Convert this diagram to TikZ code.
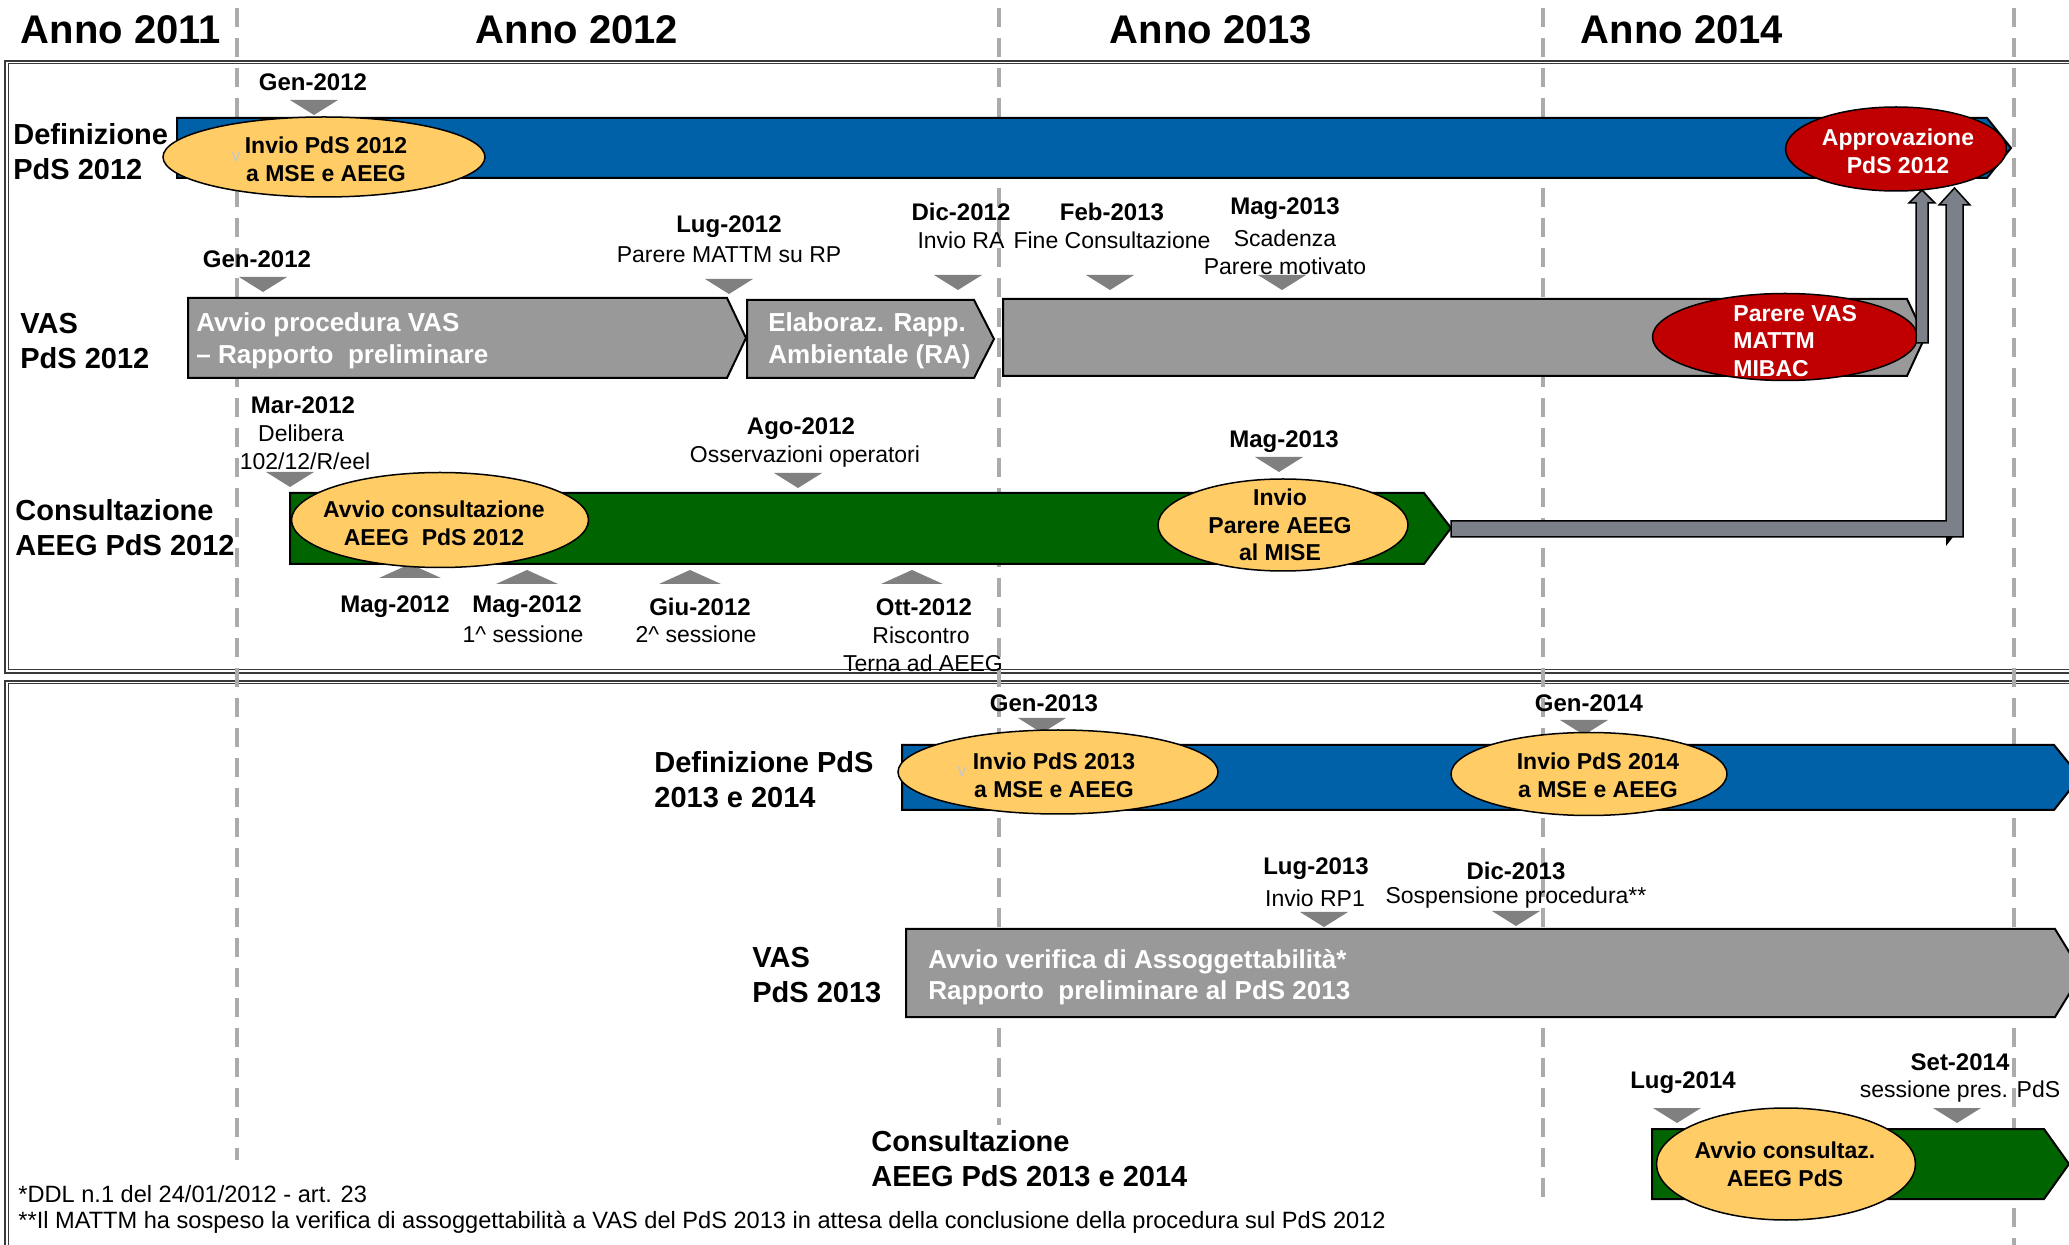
\documentclass[tikz,border=0pt]{standalone}
\usepackage{fontspec}
\setmainfont{Liberation Sans}
\usetikzlibrary{shapes.geometric}
\definecolor{pdsblue}{HTML}{0060A8}
\definecolor{bargray}{HTML}{999999}
\definecolor{pdsgreen}{HTML}{006400}
\definecolor{ellyellow}{HTML}{FFCC66}
\definecolor{ellred}{HTML}{C00000}
\definecolor{trigray}{HTML}{808080}
\definecolor{dashgray}{HTML}{ABABAB}
\definecolor{arrowgray}{HTML}{7C8088}
\definecolor{framegray}{HTML}{3A3A3A}
\newcommand\tridown[2]{\fill[tri] ({#1-24},#2) -- ({#1+24},#2) -- (#1,{#2+15}) -- cycle;}
\newcommand\triup[2]{\fill[tri] ({#1-31},#2) -- ({#1+31},#2) -- (#1,{#2-14}) -- cycle;}
\begin{document}
\begin{tikzpicture}[x=0.5pt,y=-0.5pt,
 hdr/.style={font=\fontsize{20}{24}\selectfont\bfseries, inner sep=0pt},
 rowlab/.style={font=\fontsize{14.5}{17.5}\selectfont\bfseries, align=left, anchor=west, inner sep=0pt},
 mb/.style={font=\fontsize{12}{14}\selectfont\bfseries, inner sep=0pt},
 mr/.style={font=\fontsize{11.5}{14}\selectfont, inner sep=0pt},
 ell/.style={ellipse, draw=black, line width=0.75pt, inner sep=0pt},
 ytxt/.style={font=\fontsize{11.5}{13.8}\selectfont\bfseries, align=center, inner sep=0pt},
 wtxt/.style={font=\fontsize{11.5}{13.8}\selectfont\bfseries, text=white, align=center, inner sep=0pt},
 bartxt/.style={font=\fontsize{13}{15.8}\selectfont\bfseries, text=white, align=left, anchor=west, inner sep=0pt},
 bar/.style={draw=black, line width=1pt},
 tri/.style={fill=trigray},
 dline/.style={draw=dashgray, line width=2pt, dash pattern=on 9.5pt off 5.5pt, dash phase=11pt},
 blockarrow/.style={fill=arrowgray, draw=black, line width=0.75pt, line join=miter},
 foot/.style={font=\fontsize{11.8}{14}\selectfont, anchor=west, inner sep=0pt},
 frame/.style={draw=framegray},
 ghost/.style={font=\fontsize{9}{10}\selectfont, text=black!22, inner sep=0pt}
]
\useasboundingbox (0,0) rectangle (2069,1245);
\clip (0,0) rectangle (2069,1245);
\fill[white] (0,0) rectangle (2069,1245);

% frames (double lines)
\draw[frame, line width=0.7pt] (5,61) rectangle (2080,673);
\draw[frame, line width=0.5pt] (8,64) rectangle (2077,670);
\draw[frame, line width=0.7pt] (5,681) rectangle (2080,1260);
\draw[frame, line width=0.5pt] (8,684) rectangle (2077,1260);

% year separators
\draw[dline] (237,0) -- (237,1245);
\draw[dline] (999,0) -- (999,1245);
\draw[dline] (1543,0) -- (1543,1245);
\draw[dline] (2014,0) -- (2014,1245);

% bars (chevrons)
\draw[bar, fill=pdsblue] (177,118) -- (1987,118) -- (2011,148) -- (1987,178) -- (177,178) -- cycle;
\draw[bar, fill=bargray] (188,298) -- (727,298) -- (746,338) -- (727,378) -- (188,378) -- cycle;
\draw[bar, fill=bargray] (747,300) -- (974,300) -- (994,339) -- (974,378) -- (747,378) -- cycle;
\draw[bar, fill=bargray] (1003,299) -- (1907,299) -- (1925,337) -- (1907,376) -- (1003,376) -- cycle;
\draw[bar, fill=pdsgreen] (290,493) -- (1424,493) -- (1451,528) -- (1424,564) -- (290,564) -- cycle;
\draw[bar, fill=pdsblue] (902,745) -- (2054,745) -- (2080,777) -- (2054,810) -- (902,810) -- cycle;
\draw[bar, fill=bargray] (906,929) -- (2055,929) -- (2082,973) -- (2055,1017) -- (906,1017) -- cycle;
\draw[bar, fill=pdsgreen] (1652,1129) -- (2044,1129) -- (2069,1164) -- (2044,1199) -- (1652,1199) -- cycle;

% milestone triangles
\tridown{314}{100}
\tridown{263}{277}
\tridown{729}{279}
\tridown{958}{275}
\tridown{1110}{275}
\tridown{1282}{275}
\tridown{290}{472}
\tridown{798}{473}
\tridown{1279}{457}
\tridown{1042}{718}
\tridown{1584}{720}
\tridown{1324}{912}
\tridown{1516}{911}
\tridown{1677}{1108}
\tridown{1957}{1108}
\triup{410}{578}
\triup{527}{584}
\triup{690}{584}
\triup{912}{584}

% ellipses
\node[ell, fill=ellyellow, minimum width=161pt, minimum height=40pt] (e1) at (324,157) {};
\node[ell, fill=ellred, minimum width=110.5pt, minimum height=42pt] (e2) at (1896,149) {};
\node[ell, fill=ellred, minimum width=132.5pt, minimum height=43.5pt] (e3) at (1785,337) {};
\node[ell, fill=ellyellow, minimum width=148.5pt, minimum height=47.5pt] (e4) at (440,520) {};
\node[ell, fill=ellyellow, minimum width=125pt, minimum height=46pt] (e5) at (1283,525) {};
\node[ell, fill=ellyellow, minimum width=160pt, minimum height=42pt] (e6) at (1058,772) {};
\node[ell, fill=ellyellow, minimum width=138pt, minimum height=41.5pt] (e7) at (1589,774) {};
\node[ell, fill=ellyellow, minimum width=129.5pt, minimum height=56pt] (e8) at (1786,1164) {};

% block arrows to the approval
\coordinate (a1b) at (1922,343);
\coordinate (a2s) at (1451,529);
\draw[blockarrow] (a1b) ++(-6,0) -- ++(0,-140) -- ++(-7,0) -- ++(13,-13) -- ++(13,13) -- ++(-7,0) -- ++(0,140) -- cycle;
\draw[blockarrow] (a2s) ++(0,-8) -- ++(495,0) -- ++(0,-316) -- ++(-7,0) -- ++(15.5,-17) -- ++(15.5,17) -- ++(-7,0) -- ++(0,332) -- ++(-512,0) -- cycle;
\fill[black] (1946,537) -- (1953,537) -- (1946,546) -- cycle;

% headers
\node[hdr] (h11) at (121,30) {Anno 2011};
\node[hdr] (h12) at (577,30) {Anno 2012};
\node[hdr] (h13) at (1211,30) {Anno 2013};
\node[hdr] (h14) at (1682,30) {Anno 2014};

% row labels
\node[rowlab] (l1) at (13,152) {Definizione\\PdS 2012};
\node[rowlab] (l2) at (20,341) {VAS\\PdS 2012};
\node[rowlab] (l3) at (15,528) {Consultazione\\AEEG PdS 2012};
\node[rowlab] (l4) at (654,780) {Definizione PdS\\2013 e 2014};
\node[rowlab] (l5) at (752,975) {VAS\\PdS 2013};

% ellipse texts
\node[ytxt] (t1) at (326,159) {Invio PdS 2012\\a MSE e AEEG};
\node[ghost] (v1) at (236,157) {v};
\node[wtxt] (t2) at (1898,151) {Approvazione\\PdS 2012};
\node[wtxt, align=left, anchor=west] (t3) at (1733,341) {Parere VAS\\MATTM\\MIBAC};
\node[ytxt] (t4) at (434,523) {Avvio consultazione\\AEEG\ \ PdS 2012};
\node[ytxt] (t5) at (1280,525) {Invio\\Parere AEEG\\al MISE};
\node[ytxt] (t6) at (1054,775) {Invio PdS 2013\\a MSE e AEEG};
\node[ghost] (v2) at (962,772) {v};
\node[ytxt] (t7) at (1598,775) {Invio PdS 2014\\a MSE e AEEG};
\node[ytxt] (t8) at (1785,1164) {Avvio consultaz.\\AEEG PdS};

% bar texts
\node[bartxt] (b1) at (196,341) {Avvio procedura VAS\\– Rapporto\ \ preliminare};
\node[bartxt] (b2) at (768,341) {Elaboraz. Rapp.\\Ambientale (RA)};
\node[bartxt] (b3) at (928,977) {Avvio verifica di Assoggettabilità*\\Rapporto\ \ preliminare al PdS 2013};

% milestone labels, upper panel
\node[mb] (m1) at (313,82) {Gen-2012};
\node[mb] (m2) at (257,259) {Gen-2012};
\node[mb] (m3) at (729,227) {Lug-2012};
\node[mr] (m3b) at (729,255) {Parere MATTM su RP};
\node[mb] (m4) at (961,212) {Dic-2012};
\node[mr] (m4b) at (961,240) {Invio RA};
\node[mb] (m5) at (1112,212) {Feb-2013};
\node[mr] (m5b) at (1112,240) {Fine Consultazione};
\node[mb] (m6) at (1285,209) {Mag-2013};
\node[mr] (m6b) at (1285,238) {Scadenza};
\node[mr] (m6c) at (1285,266) {Parere motivato};
\node[mb] (m7) at (303,405) {Mar-2012};
\node[mr] (m7b) at (301,433) {Delibera};
\node[mr] (m7c) at (305,461) {102/12/R/eel};
\node[mb] (m8) at (801,429) {Ago-2012};
\node[mr] (m8b) at (805,457) {Osservazioni operatori};
\node[mb] (m9) at (1284,442) {Mag-2013};
\node[mb] (m10) at (395,607) {Mag-2012};
\node[mb] (m11) at (527,607) {Mag-2012};
\node[mr] (m11b) at (523,634) {1\textasciicircum{} sessione};
\node[mb] (m12) at (700,607) {Giu-2012};
\node[mr] (m12b) at (696,634) {2\textasciicircum{} sessione};
\node[mb] (m13) at (924,607) {Ott-2012};
\node[mr] (m13b) at (921,635) {Riscontro};
\node[mr] (m13c) at (923,663) {Terna ad AEEG};

% milestone labels, lower panel
\node[mb] (n1) at (1044,703) {Gen-2013};
\node[mb] (n2) at (1589,703) {Gen-2014};
\node[mb] (n3) at (1316,869) {Lug-2013};
\node[mr] (n3b) at (1315,898) {Invio RP1};
\node[mb] (n4) at (1516,871) {Dic-2013};
\node[mr] (n4b) at (1516,898) {Sospensione procedura**};
\node[mb] (n5) at (1683,1083) {Lug-2014};
\node[mb] (n6) at (1960,1062) {Set-2014};
\node[mr] (n6b) at (1960,1092) {sessione pres. PdS};

% footnotes and last row label (opaque, hiding the separators)
\fill[white] (10,1160) rectangle (1400,1245);
\fill[white] (10,1203) rectangle (1560,1245);
\node[rowlab, fill=white, inner sep=3pt] (l6) at (865,1159) {Consultazione\\AEEG PdS 2013 e 2014};
\node[foot] (f1) at (18,1194) {*DDL n.1 del 24/01/2012 - art. 23};
\node[foot] (f2) at (18,1222) {**Il MATTM ha sospeso la verifica di assoggettabilità a VAS del PdS 2013 in attesa della conclusione della procedura sul PdS 2012};
\end{tikzpicture}
\end{document}
